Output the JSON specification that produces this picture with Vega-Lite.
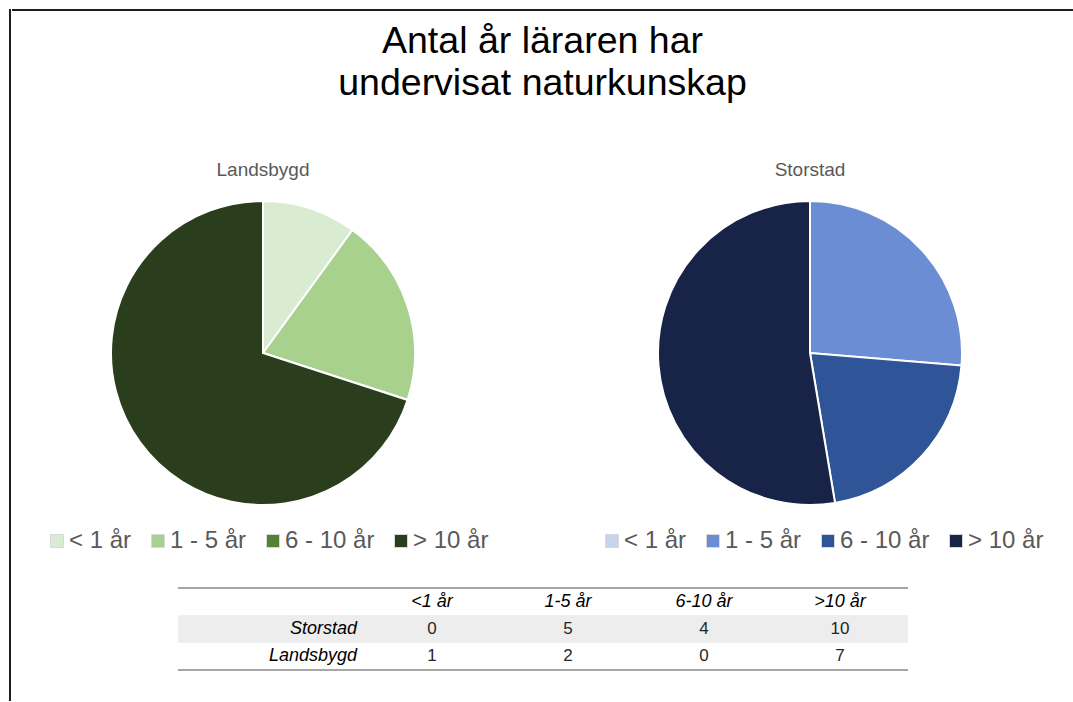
{
  "$schema": "https://vega.github.io/schema/vega-lite/v6.json",
  "background": "white",
  "padding": {"left": 9, "top": 9, "right": 0, "bottom": 0},
  "datasets": {
    "ram": [{"del": "ram"}],
    "pies": [
      {"omrade": "Landsbygd", "kat": "< 1 år", "nr": 1, "antal": 1},
      {"omrade": "Landsbygd", "kat": "1 - 5 år", "nr": 2, "antal": 2},
      {"omrade": "Landsbygd", "kat": "6 - 10 år", "nr": 3, "antal": 0},
      {"omrade": "Landsbygd", "kat": "> 10 år", "nr": 4, "antal": 7},
      {"omrade": "Storstad", "kat": "< 1 år", "nr": 1, "antal": 0},
      {"omrade": "Storstad", "kat": "1 - 5 år", "nr": 2, "antal": 5},
      {"omrade": "Storstad", "kat": "6 - 10 år", "nr": 3, "antal": 4},
      {"omrade": "Storstad", "kat": "> 10 år", "nr": 4, "antal": 10}
    ],
    "tabell": [
      {"rad": "Storstad", "kol": "<1 år", "antal": 0},
      {"rad": "Storstad", "kol": "1-5 år", "antal": 5},
      {"rad": "Storstad", "kol": "6-10 år", "antal": 4},
      {"rad": "Storstad", "kol": ">10 år", "antal": 10},
      {"rad": "Landsbygd", "kol": "<1 år", "antal": 1},
      {"rad": "Landsbygd", "kol": "1-5 år", "antal": 2},
      {"rad": "Landsbygd", "kol": "6-10 år", "antal": 0},
      {"rad": "Landsbygd", "kol": ">10 år", "antal": 7}
    ]
  },
  "hconcat": [
    {
      "width": 0.01,
      "height": 690,
      "view": {"stroke": "#1f1f1f", "strokeWidth": 2},
      "data": {"name": "ram"},
      "mark": {"type": "point", "opacity": 0, "size": 0},
      "encoding": {}
    },
    {
      "vconcat": [
        {
          "width": 1060,
          "height": 0.01,
          "view": {"stroke": "#1f1f1f", "strokeWidth": 2},
          "data": {"name": "ram"},
          "mark": {"type": "point", "opacity": 0, "size": 0},
          "encoding": {}
        },
        {
          "title": {
            "text": ["Antal år läraren har", "undervisat naturkunskap"],
            "font": "Liberation Sans",
            "fontSize": 37.5,
            "fontWeight": "normal",
            "color": "#000000",
            "anchor": "middle",
            "lineHeight": 42,
            "offset": 59,
            "dx": 14
          },
          "vconcat": [
            {
              "hconcat": [
                {
                  "width": 0.01,
                  "height": 0.01,
                  "data": {"name": "ram"},
                  "mark": {"type": "point", "opacity": 0, "size": 0},
                  "encoding": {}
                },
                {
                  "hconcat": [
                    {
                      "title": {"text": "Landsbygd", "font": "Liberation Sans", "fontSize": 19, "fontWeight": "normal", "color": "#595959", "offset": 17},
                      "width": 304,
                      "height": 304,
                      "data": {"name": "pies"},
                      "transform": [{"filter": "datum.omrade === 'Landsbygd'"}],
                      "mark": {"type": "arc", "stroke": "white", "strokeWidth": 2},
                      "encoding": {
                        "theta": {"field": "antal", "type": "quantitative", "stack": true},
                        "order": {"field": "nr", "type": "quantitative"},
                        "color": {
                          "field": "kat",
                          "type": "nominal",
                          "sort": ["< 1 år", "1 - 5 år", "6 - 10 år", "> 10 år"],
                          "scale": {"domain": ["< 1 år", "1 - 5 år", "6 - 10 år", "> 10 år"], "range": ["#d9ebd0", "#a9d18e", "#548235", "#2a3d1c"]},
                          "legend": {"orient": "none", "direction": "horizontal", "legendX": -66, "legendY": 328, "title": null}
                        }
                      }
                    },
                    {
                      "title": {"text": "Storstad", "font": "Liberation Sans", "fontSize": 19, "fontWeight": "normal", "color": "#595959", "offset": 17},
                      "width": 304,
                      "height": 304,
                      "data": {"name": "pies"},
                      "transform": [{"filter": "datum.omrade === 'Storstad'"}],
                      "mark": {"type": "arc", "stroke": "white", "strokeWidth": 2},
                      "encoding": {
                        "theta": {"field": "antal", "type": "quantitative", "stack": true},
                        "order": {"field": "nr", "type": "quantitative"},
                        "color": {
                          "field": "kat",
                          "type": "nominal",
                          "sort": ["< 1 år", "1 - 5 år", "6 - 10 år", "> 10 år"],
                          "scale": {"domain": ["< 1 år", "1 - 5 år", "6 - 10 år", "> 10 år"], "range": ["#c7d4ee", "#6a8dd3", "#2f5497", "#172447"]},
                          "legend": {"orient": "none", "direction": "horizontal", "legendX": -58, "legendY": 328, "title": null}
                        }
                      }
                    }
                  ],
                  "spacing": 243,
                  "bounds": "flush",
                  "resolve": {"scale": {"color": "independent"}, "legend": {"color": "independent"}}
                }
              ],
              "spacing": 97,
              "bounds": "flush"
            },
            {
              "hconcat": [
                {
                  "width": 0.01,
                  "height": 0.01,
                  "data": {"name": "ram"},
                  "mark": {"type": "point", "opacity": 0, "size": 0},
                  "encoding": {}
                },
                {
                  "width": 730,
                  "height": 82,
                  "data": {"name": "tabell"},
                  "layer": [
                    {
                      "transform": [{"filter": "datum.rad === 'Storstad' && datum.kol === '<1 år'"}],
                      "mark": {"type": "rect", "color": "#ededed"},
                      "encoding": {
                        "y": {"field": "rad", "type": "nominal", "scale": {"type": "band", "domain": ["hdr", "Storstad", "Landsbygd"], "paddingInner": 0, "paddingOuter": 0}, "axis": null}
                      }
                    },
                    {
                      "transform": [{"filter": "datum.rad === 'Storstad' && datum.kol === '<1 år'"}],
                      "mark": {"type": "rule", "color": "#a6a6a6", "strokeWidth": 2},
                      "encoding": {"y": {"datum": "hdr", "type": "nominal", "bandPosition": 0}}
                    },
                    {
                      "transform": [{"filter": "datum.rad === 'Storstad' && datum.kol === '<1 år'"}],
                      "mark": {"type": "rule", "color": "#a6a6a6", "strokeWidth": 2},
                      "encoding": {"y": {"datum": "Landsbygd", "type": "nominal", "bandPosition": 1}}
                    },
                    {
                      "transform": [{"filter": "datum.rad === 'Storstad'"}],
                      "mark": {"type": "text", "font": "Liberation Sans", "fontSize": 18, "fontStyle": "italic", "color": "#000000"},
                      "encoding": {
                        "x": {"field": "kol", "type": "nominal", "scale": {"type": "band", "domain": ["lbl", "<1 år", "1-5 år", "6-10 år", ">10 år"], "paddingInner": 0, "paddingOuter": 0.184, "align": 1}, "axis": null},
                        "y": {"datum": "hdr", "type": "nominal"},
                        "text": {"field": "kol", "type": "nominal"}
                      }
                    },
                    {
                      "transform": [{"filter": "datum.kol === '<1 år'"}],
                      "mark": {"type": "text", "font": "Liberation Sans", "fontSize": 18, "fontStyle": "italic", "color": "#000000", "align": "right", "dx": -7},
                      "encoding": {
                        "x": {"datum": "lbl", "type": "nominal", "bandPosition": 1},
                        "y": {"field": "rad", "type": "nominal"},
                        "text": {"field": "rad", "type": "nominal"}
                      }
                    },
                    {
                      "mark": {"type": "text", "font": "Liberation Sans", "fontSize": 17, "color": "#262626"},
                      "encoding": {
                        "x": {"field": "kol", "type": "nominal"},
                        "y": {"field": "rad", "type": "nominal"},
                        "text": {"field": "antal", "type": "quantitative"}
                      }
                    }
                  ]
                }
              ],
              "spacing": 164,
              "bounds": "flush"
            }
          ],
          "spacing": 34
        }
      ],
      "spacing": 10
    }
  ],
  "spacing": 0,
  "config": {
    "view": {"stroke": null},
    "legend": {
      "labelFont": "Liberation Sans",
      "labelFontSize": 24,
      "labelColor": "#595959",
      "symbolType": "square",
      "symbolSize": 169,
      "symbolStrokeColor": "#d9d9d9",
      "symbolStrokeWidth": 1,
      "labelOffset": 0,
      "columnPadding": 14,
      "padding": 0
    }
  }
}
